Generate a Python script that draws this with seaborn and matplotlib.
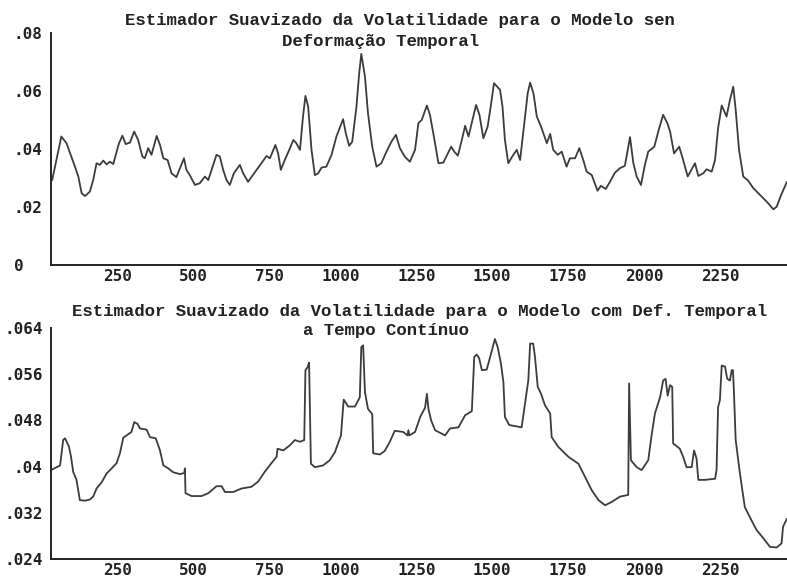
import numpy as np
import pandas as pd
import matplotlib
matplotlib.use("Agg")
import matplotlib.pyplot as plt
import seaborn as sns
from matplotlib.transforms import ScaledTranslation
from matplotlib.ticker import MultipleLocator, FixedLocator

# ---------------- data ----------------
top_x = [4, 34, 51, 79, 90, 101, 112, 128, 139, 150, 161, 172, 183, 194, 205, 224, 235, 246,
         260, 274, 287, 301, 309, 320, 331, 348, 359, 370, 384, 397, 413, 438, 446, 457, 474,
         490, 507, 518, 534, 545, 556, 567, 578, 589, 602, 622, 633, 649, 677, 693, 710, 721,
         739, 748, 757, 770, 787, 798, 808, 820, 830, 838, 847, 858, 869, 880, 891, 907, 924,
         940, 962, 971, 982, 992, 1006, 1015, 1022, 1034, 1044, 1058, 1072, 1088, 1105, 1121,
         1136, 1149, 1165, 1182, 1199, 1210, 1221, 1238, 1248, 1263, 1276, 1292, 1318, 1328,
         1340, 1353, 1364, 1375, 1388, 1400, 1411, 1424, 1438, 1449, 1459, 1479, 1487, 1495,
         1506, 1519, 1534, 1545, 1559, 1570, 1578, 1589, 1600, 1614, 1633, 1644, 1654, 1669,
         1682, 1698, 1709, 1726, 1740, 1753, 1764, 1781, 1800, 1811, 1827, 1841, 1857, 1874,
         1890, 1907, 1918, 1929, 1943, 1956, 1967, 1987, 2000, 2016, 2030, 2039, 2052, 2069,
         2082, 2097, 2121, 2132, 2148, 2159, 2176, 2187, 2197, 2209, 2225, 2236, 2247, 2255,
         2266, 2280, 2296, 2313, 2335, 2349, 2362, 2379, 2390, 2406, 2424]
top_y = [.0293, .0443, .0420, .0339, .0305, .0247, .0238, .0253, .0293, .0351, .0345, .0360,
         .0347, .0356, .0348, .0420, .0446, .0417, .0422, .0460, .0431, .0374, .0368, .0403,
         .0380, .0445, .0414, .0368, .0362, .0316, .0303, .0368, .0328, .0310, .0276, .0282,
         .0305, .0293, .0345, .0380, .0374, .0328, .0293, .0276, .0316, .0345, .0316, .0287,
         .0328, .0351, .0376, .0368, .0414, .0385, .0328, .0362, .0403, .0431, .0420, .0397,
         .0512, .0583, .0546, .0397, .0310, .0316, .0336, .0339, .0380, .0443, .0503, .0454,
         .0411, .0425, .0546, .0661, .0728, .0650, .0523, .0408, .0339, .0351, .0391, .0425,
         .0449, .0403, .0374, .0356, .0397, .0489, .0500, .0550, .0518, .0431, .0351, .0353,
         .0408, .0391, .0377, .0431, .0480, .0443, .0500, .0552, .0518, .0437, .0477, .0552,
         .0627, .0604, .0546, .0431, .0351, .0374, .0397, .0362, .0489, .0592, .0629, .0592,
         .0512, .0477, .0420, .0452, .0397, .0380, .0391, .0339, .0368, .0368, .0403, .0362,
         .0322, .0310, .0256, .0273, .0262, .0287, .0318, .0334, .0342, .0441, .0351, .0305,
         .0276, .0345, .0391, .0408, .0460, .0518, .0489, .0460, .0385, .0408, .0362, .0305,
         .0351, .0307, .0316, .0330, .0322, .0362, .0472, .0550, .0512, .0569, .0615, .0535,
         .0397, .0305, .0291, .0265, .0242, .0227, .0213, .0192, .0201, .0245, .0287]

bot_x = [0, 30, 40, 46, 59, 66, 73, 84, 95, 112, 128, 139, 150, 167, 183, 200, 216, 227, 238,
         254, 265, 274, 285, 293, 315, 326, 345, 359, 370, 386, 403, 425, 439, 441, 443, 463,
         496, 518, 545, 562, 573, 600, 627, 660, 682, 704, 726, 743, 746, 765, 787, 803, 820,
         834, 838, 845, 850, 856, 869, 896, 918, 935, 955, 964, 979, 1001, 1017, 1022, 1028,
         1034, 1044, 1058, 1061, 1083, 1099, 1116, 1132, 1160, 1174, 1177, 1180, 1199, 1216,
         1232, 1238, 1243, 1252, 1265, 1298, 1314, 1342, 1364, 1386, 1394, 1402, 1410, 1419,
         1435, 1449, 1462, 1471, 1482, 1490, 1495, 1509, 1550, 1561, 1572, 1578, 1588, 1594,
         1603, 1614, 1627, 1644, 1649, 1671, 1704, 1737, 1759, 1781, 1803, 1825, 1847, 1874,
         1901, 1904, 1910, 1929, 1945, 1967, 1978, 1989, 2006, 2016, 2024, 2031, 2039, 2046,
         2049, 2071, 2082, 2093, 2110, 2118, 2126, 2132, 2154, 2187, 2192, 2197, 2203, 2209,
         2220, 2227, 2236, 2242, 2246, 2249, 2255, 2269, 2285, 2307, 2324, 2346, 2368, 2390,
         2406, 2411, 2424]
bot_y = [.0394, .0402, .0446, .0449, .0435, .0417, .0391, .0377, .0342, .0341, .0343, .0348,
         .0362, .0373, .0388, .0397, .0406, .0423, .0450, .0456, .0460, .0477, .0474, .0466,
         .0464, .0451, .0449, .0428, .0402, .0397, .0390, .0387, .0389, .0397, .0354, .0349,
         .0349, .0354, .0366, .0366, .0356, .0356, .0362, .0365, .0374, .0391, .0406, .0417,
         .0431, .0428, .0437, .0446, .0443, .0446, .0567, .0572, .0580, .0405, .0399, .0402,
         .0411, .0425, .0454, .0516, .0504, .0504, .0520, .0607, .0610, .0529, .0500, .0491,
         .0423, .0421, .0427, .0443, .0462, .0460, .0454, .0463, .0454, .0460, .0486, .0502,
         .0526, .0500, .0480, .0463, .0454, .0466, .0468, .0489, .0496, .0590, .0594, .0588,
         .0567, .0568, .0595, .0621, .0607, .0578, .0546, .0486, .0472, .0468, .0509, .0549,
         .0613, .0613, .0590, .0538, .0526, .0506, .0492, .0451, .0434, .0417, .0405, .0382,
         .0359, .0342, .0333, .0339, .0348, .0351, .0544, .0411, .0399, .0394, .0411, .0454,
         .0492, .0520, .0549, .0552, .0523, .0541, .0538, .0440, .0431, .0417, .0399, .0399,
         .0428, .0414, .0377, .0377, .0379, .0394, .0503, .0515, .0575, .0573, .0552, .0549,
         .0567, .0567, .0532, .0446, .0388, .0330, .0307, .0290, .0276, .0261, .0260, .0267,
         .0296, .0310]

top_title = ["Estimador Suavizado da Volatilidade para o Modelo sen", "Deformação Temporal"]
bot_title = ["Estimador Suavizado da Volatilidade para o Modelo com Def. Temporal",
             "a Tempo Contínuo"]
x_ticks = [250, 500, 750, 1000, 1250, 1500, 1750, 2000, 2250]
top_yticks = [0, .02, .04, .06, .08]
top_ylabels = ["0  ", ".02", ".04", ".06", ".08"]
bot_yticks = [.024, .032, .04, .048, .056, .064]
bot_ylabels = [".024", ".032", ".04", ".048", ".056", ".064"]

# ---------------- plotting ----------------
sns.set_theme(style="white")
plt.rcParams["font.family"] = ["DejaVu Sans Mono", "DejaVu Sans"]

W, H = 787, 583
fig = plt.figure(figsize=(W / 100, H / 100), dpi=100)
line_color = "#3c3c3c"

ax1 = fig.add_axes([51 / W, 1 - 265 / H, (W - 51) / W, 232 / H])
ax2 = fig.add_axes([51 / W, 1 - 559 / H, (W - 51) / W, 231 / H])

df1 = pd.DataFrame({"t": top_x, "v": top_y})
df2 = pd.DataFrame({"t": bot_x, "v": bot_y})
sns.lineplot(data=df1, x="t", y="v", ax=ax1, color=line_color, linewidth=1.3, sort=False)
sns.lineplot(data=df2, x="t", y="v", ax=ax2, color=line_color, linewidth=1.3, sort=False)

offset = ScaledTranslation(5 / 100, 0, fig.dpi_scale_trans)
for ax, yt, yl, ylim, minor in [(ax1, top_yticks, top_ylabels, (0, .08), .01),
                                 (ax2, bot_yticks, bot_ylabels, (.024, .064), .004)]:
    ax.set_xlim(0, 2424)
    ax.set_ylim(*ylim)
    ax.set_xlabel("")
    ax.set_ylabel("")
    for s in ["top", "right"]:
        ax.spines[s].set_visible(False)
    for s in ["left", "bottom"]:
        ax.spines[s].set_color("#222222")
        ax.spines[s].set_linewidth(1.4)
    ax.xaxis.set_major_locator(FixedLocator(x_ticks))
    ax.xaxis.set_minor_locator(MultipleLocator(125))
    ax.set_xticks(x_ticks)
    ax.set_xticklabels([str(v) for v in x_ticks], fontsize=11.5, fontweight="bold",
                       color="#222222")
    ax.set_yticks(yt)
    ax.yaxis.set_minor_locator(MultipleLocator(minor))
    ax.set_yticklabels(yl, fontsize=11.5, fontweight="bold", color="#222222")
    ax.tick_params(axis="both", which="both", direction="in", color="#222222")
    ax.tick_params(axis="x", which="major", length=5, width=1.2, pad=3)
    ax.tick_params(axis="x", which="minor", length=2.5, width=1.0)
    ax.tick_params(axis="y", which="major", length=7, width=1.2, pad=6)
    ax.tick_params(axis="y", which="minor", length=3, width=1.0)
    ax.grid(False)
    for lab in ax.get_xticklabels():
        lab.set_ha("right")
        lab.set_transform(lab.get_transform() + offset)

tfont = dict(family=["Liberation Mono", "DejaVu Sans Mono"], fontsize=12.5,
             fontweight="bold", color="#222222", va="center", ha="left")
fig.text(125 / W, 1 - 20 / H, top_title[0], **tfont)
fig.text(282 / W, 1 - 41.5 / H, top_title[1], **tfont)
fig.text(72 / W, 1 - 311.5 / H, bot_title[0], **tfont)
fig.text(303 / W, 1 - 331 / H, bot_title[1], **tfont)

fig.savefig("out.png", dpi=100)
